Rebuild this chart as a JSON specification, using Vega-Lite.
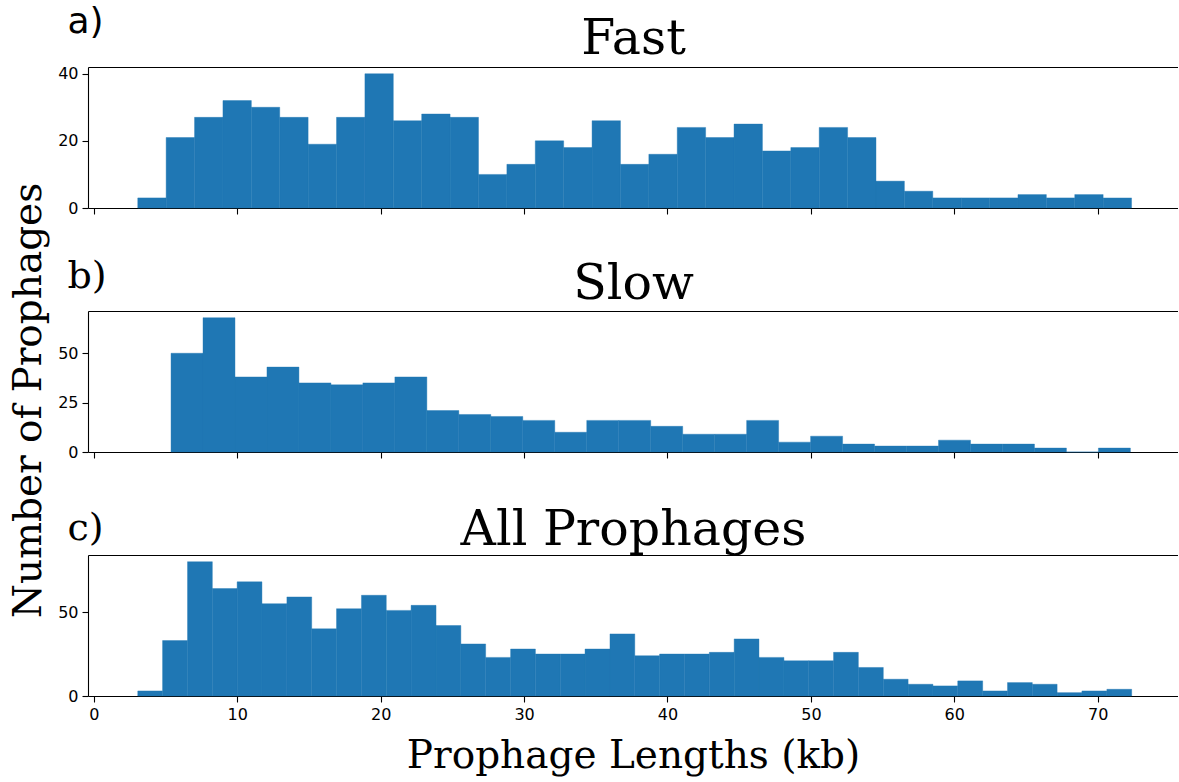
{
  "$schema": "https://vega.github.io/schema/vega-lite/v6.json",
  "bounds": "flush",
  "spacing": 103,
  "padding": {"left": 8, "top": 3, "right": 0, "bottom": 2},
  "config": {
    "view": {"stroke": null},
    "axis": {"domainColor": "#000", "domainWidth": 1.1, "tickColor": "#000", "tickWidth": 1.1, "tickSize": 6, "labelColor": "#000", "labelFont": "DejaVu Sans", "labelFontSize": 16, "labelPadding": 4, "grid": false, "titleColor": "#000", "titleFontWeight": "normal", "zindex": 1}
  },
  "datasets": {
    "fast": [
      {"x0": 3.06, "x1": 5.04, "count": 3}, {"x0": 5.04, "x1": 7.02, "count": 21}, {"x0": 7.02, "x1": 9.0, "count": 27}, {"x0": 9.0, "x1": 10.98, "count": 32}, {"x0": 10.98, "x1": 12.96, "count": 30},
      {"x0": 12.96, "x1": 14.94, "count": 27}, {"x0": 14.94, "x1": 16.92, "count": 19}, {"x0": 16.92, "x1": 18.9, "count": 27}, {"x0": 18.9, "x1": 20.88, "count": 40}, {"x0": 20.88, "x1": 22.86, "count": 26},
      {"x0": 22.86, "x1": 24.84, "count": 28}, {"x0": 24.84, "x1": 26.82, "count": 27}, {"x0": 26.82, "x1": 28.8, "count": 10}, {"x0": 28.8, "x1": 30.78, "count": 13}, {"x0": 30.78, "x1": 32.76, "count": 20},
      {"x0": 32.76, "x1": 34.74, "count": 18}, {"x0": 34.74, "x1": 36.72, "count": 26}, {"x0": 36.72, "x1": 38.7, "count": 13}, {"x0": 38.7, "x1": 40.68, "count": 16}, {"x0": 40.68, "x1": 42.66, "count": 24},
      {"x0": 42.66, "x1": 44.64, "count": 21}, {"x0": 44.64, "x1": 46.62, "count": 25}, {"x0": 46.62, "x1": 48.6, "count": 17}, {"x0": 48.6, "x1": 50.58, "count": 18}, {"x0": 50.58, "x1": 52.56, "count": 24},
      {"x0": 52.56, "x1": 54.54, "count": 21}, {"x0": 54.54, "x1": 56.52, "count": 8}, {"x0": 56.52, "x1": 58.5, "count": 5}, {"x0": 58.5, "x1": 60.48, "count": 3}, {"x0": 60.48, "x1": 62.46, "count": 3},
      {"x0": 62.46, "x1": 64.44, "count": 3}, {"x0": 64.44, "x1": 66.42, "count": 4}, {"x0": 66.42, "x1": 68.4, "count": 3}, {"x0": 68.4, "x1": 70.38, "count": 4}, {"x0": 70.38, "x1": 72.36, "count": 3}
    ],
    "slow": [
      {"x0": 5.38, "x1": 7.61, "count": 50}, {"x0": 7.61, "x1": 9.84, "count": 68}, {"x0": 9.84, "x1": 12.07, "count": 38}, {"x0": 12.07, "x1": 14.3, "count": 43}, {"x0": 14.3, "x1": 16.53, "count": 35},
      {"x0": 16.53, "x1": 18.76, "count": 34}, {"x0": 18.76, "x1": 20.99, "count": 35}, {"x0": 20.99, "x1": 23.22, "count": 38}, {"x0": 23.22, "x1": 25.45, "count": 21}, {"x0": 25.45, "x1": 27.68, "count": 19},
      {"x0": 27.68, "x1": 29.91, "count": 18}, {"x0": 29.91, "x1": 32.14, "count": 16}, {"x0": 32.14, "x1": 34.37, "count": 10}, {"x0": 34.37, "x1": 36.6, "count": 16}, {"x0": 36.6, "x1": 38.83, "count": 16},
      {"x0": 38.83, "x1": 41.06, "count": 13}, {"x0": 41.06, "x1": 43.29, "count": 9}, {"x0": 43.29, "x1": 45.52, "count": 9}, {"x0": 45.52, "x1": 47.75, "count": 16}, {"x0": 47.75, "x1": 49.98, "count": 5},
      {"x0": 49.98, "x1": 52.21, "count": 8}, {"x0": 52.21, "x1": 54.44, "count": 4}, {"x0": 54.44, "x1": 56.67, "count": 3}, {"x0": 56.67, "x1": 58.9, "count": 3}, {"x0": 58.9, "x1": 61.13, "count": 6},
      {"x0": 61.13, "x1": 63.36, "count": 4}, {"x0": 63.36, "x1": 65.59, "count": 4}, {"x0": 65.59, "x1": 67.82, "count": 2}, {"x0": 67.82, "x1": 70.05, "count": 0}, {"x0": 70.05, "x1": 72.28, "count": 2}
    ],
    "all": [
      {"x0": 3.06, "x1": 4.79, "count": 3}, {"x0": 4.79, "x1": 6.53, "count": 33}, {"x0": 6.53, "x1": 8.26, "count": 80}, {"x0": 8.26, "x1": 9.99, "count": 64}, {"x0": 9.99, "x1": 11.72, "count": 68},
      {"x0": 11.72, "x1": 13.46, "count": 55}, {"x0": 13.46, "x1": 15.19, "count": 59}, {"x0": 15.19, "x1": 16.92, "count": 40}, {"x0": 16.92, "x1": 18.66, "count": 52}, {"x0": 18.66, "x1": 20.39, "count": 60},
      {"x0": 20.39, "x1": 22.12, "count": 51}, {"x0": 22.12, "x1": 23.86, "count": 54}, {"x0": 23.86, "x1": 25.59, "count": 42}, {"x0": 25.59, "x1": 27.32, "count": 31}, {"x0": 27.32, "x1": 29.06, "count": 23},
      {"x0": 29.06, "x1": 30.79, "count": 28}, {"x0": 30.79, "x1": 32.52, "count": 25}, {"x0": 32.52, "x1": 34.25, "count": 25}, {"x0": 34.25, "x1": 35.99, "count": 28}, {"x0": 35.99, "x1": 37.72, "count": 37},
      {"x0": 37.72, "x1": 39.45, "count": 24}, {"x0": 39.45, "x1": 41.19, "count": 25}, {"x0": 41.19, "x1": 42.92, "count": 25}, {"x0": 42.92, "x1": 44.65, "count": 26}, {"x0": 44.65, "x1": 46.38, "count": 34},
      {"x0": 46.38, "x1": 48.12, "count": 23}, {"x0": 48.12, "x1": 49.85, "count": 21}, {"x0": 49.85, "x1": 51.58, "count": 21}, {"x0": 51.58, "x1": 53.31, "count": 26}, {"x0": 53.31, "x1": 55.05, "count": 17},
      {"x0": 55.05, "x1": 56.78, "count": 10}, {"x0": 56.78, "x1": 58.51, "count": 7}, {"x0": 58.51, "x1": 60.24, "count": 6}, {"x0": 60.24, "x1": 61.98, "count": 9}, {"x0": 61.98, "x1": 63.71, "count": 3},
      {"x0": 63.71, "x1": 65.44, "count": 8}, {"x0": 65.44, "x1": 67.17, "count": 7}, {"x0": 67.17, "x1": 68.9, "count": 2}, {"x0": 68.9, "x1": 70.64, "count": 3}, {"x0": 70.64, "x1": 72.37, "count": 4}
    ]
  },
  "vconcat": [
    {
      "width": 1090, "height": 141,
      "data": {"name": "fast"},
      "layer": [
        {
          "mark": {"type": "bar", "color": "#1f77b4", "stroke": "#1f77b4", "strokeWidth": 0.4},
          "encoding": {
            "x": {"field": "x0", "type": "quantitative", "scale": {"domain": [-0.41, 75.6], "nice": false, "zero": false}, "axis": {"values": [0, 10, 20, 30, 40, 50, 60, 70], "labels": false, "title": null}},
            "x2": {"field": "x1"},
            "y": {"field": "count", "type": "quantitative", "scale": {"domain": [0, 42], "nice": false}, "axis": {"values": [0, 20, 40], "title": "a)", "titleFont": "DejaVu Sans", "titleFontSize": 36, "titleAngle": 0, "titleAlign": "left", "titleBaseline": "alphabetic", "titleX": -21, "titleY": -35}},
            "y2": {"datum": 0}
          }
        },
        {
          "mark": {"type": "rule", "opacity": 0},
          "encoding": {
            "x": {"field": "x0", "type": "quantitative", "scale": {"domain": [-0.41, 75.6], "nice": false, "zero": false}, "axis": {"orient": "top", "labels": false, "ticks": false, "title": "Fast", "titleFont": "DejaVu Serif", "titleFontSize": 49, "titleAlign": "center", "titleBaseline": "alphabetic", "titleY": -14}}
          }
        }
      ],
      "resolve": {"axis": {"x": "independent"}}
    },
    {
      "width": 1090, "height": 141,
      "data": {"name": "slow"},
      "layer": [
        {
          "mark": {"type": "bar", "color": "#1f77b4", "stroke": "#1f77b4", "strokeWidth": 0.4},
          "encoding": {
            "x": {"field": "x0", "type": "quantitative", "scale": {"domain": [-0.41, 75.6], "nice": false, "zero": false}, "axis": {"values": [0, 10, 20, 30, 40, 50, 60, 70], "labels": false, "title": null}},
            "x2": {"field": "x1"},
            "y": {"field": "count", "type": "quantitative", "scale": {"domain": [0, 71.4], "nice": false}, "axis": {"values": [0, 25, 50], "title": "Number of Prophages", "titleFont": "DejaVu Serif", "titleFontSize": 39, "titleAngle": 270, "titleAlign": "center", "titleBaseline": "alphabetic", "titleX": -48, "titleY": 89}},
            "y2": {"datum": 0}
          }
        },
        {
          "mark": {"type": "rule", "opacity": 0},
          "encoding": {
            "x": {"field": "x0", "type": "quantitative", "scale": {"domain": [-0.41, 75.6], "nice": false, "zero": false}, "axis": {"orient": "top", "labels": false, "ticks": false, "title": "Slow", "titleFont": "DejaVu Serif", "titleFontSize": 49, "titleAlign": "center", "titleBaseline": "alphabetic", "titleY": -13}}
          }
        },
        {
          "mark": {"type": "rule", "opacity": 0},
          "encoding": {
            "y": {"field": "count", "type": "quantitative", "scale": {"domain": [0, 71.4], "nice": false}, "axis": {"orient": "right", "domain": false, "labels": false, "ticks": false, "title": "b)", "titleFont": "DejaVu Serif", "titleFontSize": 38, "titleAngle": 0, "titleAlign": "left", "titleBaseline": "alphabetic", "titleX": -1111, "titleY": -24}}
          }
        }
      ],
      "resolve": {"axis": {"x": "independent", "y": "independent"}}
    },
    {
      "width": 1090, "height": 141,
      "data": {"name": "all"},
      "layer": [
        {
          "mark": {"type": "bar", "color": "#1f77b4", "stroke": "#1f77b4", "strokeWidth": 0.4},
          "encoding": {
            "x": {"field": "x0", "type": "quantitative", "scale": {"domain": [-0.41, 75.6], "nice": false, "zero": false}, "axis": {"values": [0, 10, 20, 30, 40, 50, 60, 70], "title": "Prophage Lengths (kb)", "titleFont": "DejaVu Serif", "titleFontSize": 39, "titleBaseline": "alphabetic", "titleY": 71}},
            "x2": {"field": "x1"},
            "y": {"field": "count", "type": "quantitative", "scale": {"domain": [0, 84], "nice": false}, "axis": {"values": [0, 50], "title": "c)", "titleFont": "DejaVu Serif", "titleFontSize": 38, "titleAngle": 0, "titleAlign": "left", "titleBaseline": "alphabetic", "titleX": -21, "titleY": -16}},
            "y2": {"datum": 0}
          }
        },
        {
          "mark": {"type": "rule", "opacity": 0},
          "encoding": {
            "x": {"field": "x0", "type": "quantitative", "scale": {"domain": [-0.41, 75.6], "nice": false, "zero": false}, "axis": {"orient": "top", "labels": false, "ticks": false, "title": "All Prophages", "titleFont": "DejaVu Serif", "titleFontSize": 49, "titleAlign": "center", "titleBaseline": "alphabetic", "titleY": -11}}
          }
        }
      ],
      "resolve": {"axis": {"x": "independent"}}
    }
  ]
}
